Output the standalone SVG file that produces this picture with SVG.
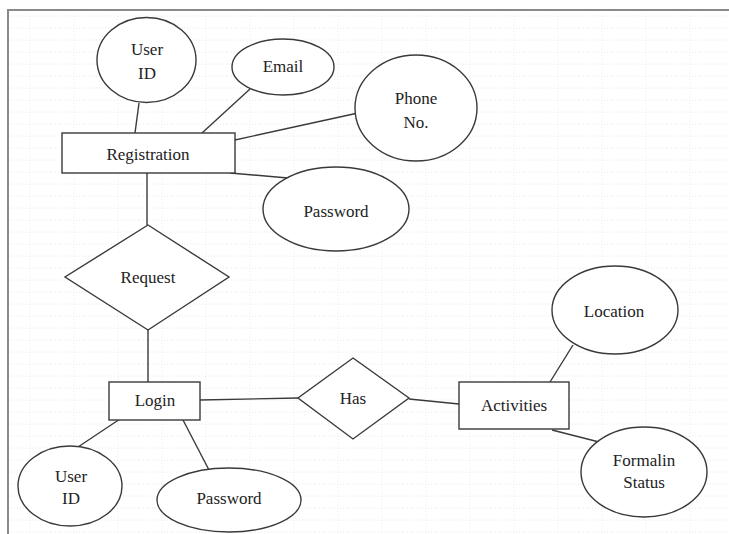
<svg xmlns="http://www.w3.org/2000/svg" width="729" height="534" viewBox="0 0 729 534">
<style>
.s{fill:#fff;stroke:#3a3a3a;stroke-width:1.4}
.c line{stroke:#3a3a3a;stroke-width:1.4}
text{font-family:'Liberation Serif','DejaVu Serif',serif;font-size:17px;fill:#222;text-anchor:middle;dominant-baseline:central}
</style>
<defs>
<pattern id="grid" x="8" y="10" width="44" height="12" patternUnits="userSpaceOnUse">
<line x1="0" y1="6" x2="44" y2="6" stroke="#e2e2e2" stroke-width="0.8" stroke-dasharray="1 2"/>
<line x1="22" y1="0" x2="22" y2="12" stroke="#e8e8e8" stroke-width="0.8" stroke-dasharray="1 2"/>
</pattern>
</defs>
<rect width="729" height="534" fill="#fff"/>
<rect x="9" y="11" width="720" height="523" fill="url(#grid)"/>
<path d="M8 534 V10 H729" fill="none" stroke="#8a8a8a" stroke-width="2"/>
<g class="c" id="connectors">
<line x1="139" y1="103" x2="135" y2="133"/>
<line x1="250" y1="89" x2="202" y2="133"/>
<line x1="358" y1="113" x2="235" y2="140"/>
<line x1="288" y1="178" x2="230" y2="173"/>
<line x1="147" y1="173" x2="147" y2="225"/>
<line x1="148" y1="330" x2="148" y2="382"/>
<line x1="200" y1="400" x2="298" y2="398"/>
<line x1="78" y1="447" x2="123" y2="417"/>
<line x1="183" y1="420" x2="209" y2="470"/>
<line x1="409" y1="399" x2="459" y2="404"/>
<line x1="573" y1="345" x2="550" y2="382"/>
<line x1="552" y1="430" x2="603" y2="443"/>
</g>
<g id="userid1"><ellipse class="s" cx="146.5" cy="60" rx="49.5" ry="42.5"/><text x="147" y="49">User</text><text x="147" y="73">ID</text></g>
<g id="email"><ellipse class="s" cx="283" cy="67" rx="51" ry="28"/><text x="283" y="66">Email</text></g>
<g id="phone"><ellipse class="s" cx="416" cy="108" rx="61" ry="53"/><text x="416" y="98">Phone</text><text x="416" y="122">No.</text></g>
<g id="registration"><rect class="s" x="62" y="133" width="173" height="40"/><text x="148" y="154">Registration</text></g>
<g id="password1"><ellipse class="s" cx="336" cy="209" rx="73" ry="42"/><text x="336" y="211">Password</text></g>
<g id="request"><polygon class="s" points="148,225 229,277 148,330 65,277"/><text x="148" y="277">Request</text></g>
<g id="login"><rect class="s" x="109" y="382" width="91" height="38"/><text x="155" y="400">Login</text></g>
<g id="userid2"><ellipse class="s" cx="70" cy="486" rx="52" ry="40"/><text x="71" y="476">User</text><text x="71" y="498">ID</text></g>
<g id="password2"><ellipse class="s" cx="229" cy="500" rx="72" ry="32"/><text x="229" y="498">Password</text></g>
<g id="has"><polygon class="s" points="353,358 409,398 353,439 298,398"/><text x="353" y="398">Has</text></g>
<g id="activities"><rect class="s" x="459" y="382" width="110" height="47"/><text x="514" y="405">Activities</text></g>
<g id="location"><ellipse class="s" cx="615" cy="310" rx="63" ry="44"/><text x="614" y="311">Location</text></g>
<g id="formalin"><ellipse class="s" cx="644" cy="472" rx="63" ry="45"/><text x="644" y="460">Formalin</text><text x="644" y="482">Status</text></g>
</svg>
